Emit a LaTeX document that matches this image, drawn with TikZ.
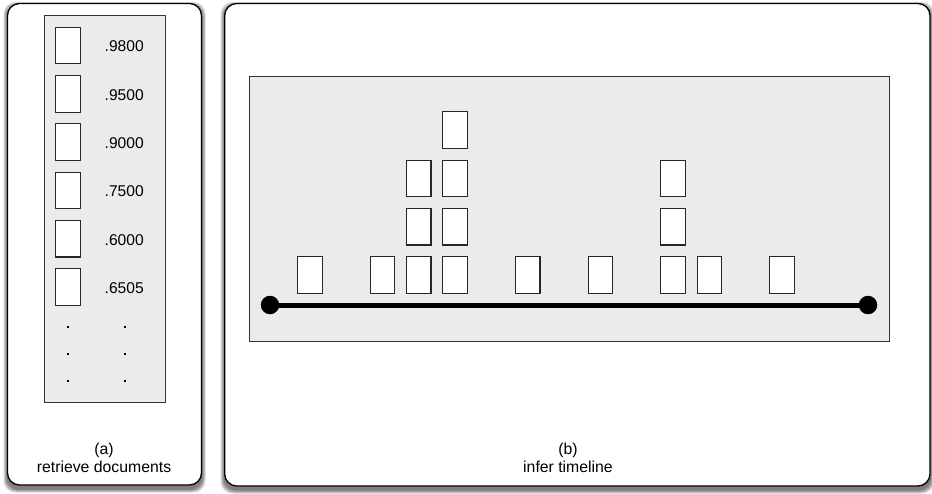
\documentclass[tikz,border=0pt]{standalone}
\usepackage{fontspec}
\setmainfont{Liberation Sans}
\begin{document}
\begin{tikzpicture}[x=1pt,y=-1pt,
  panel/.style={draw=black,line width=1.3pt,fill=white,rounded corners=12pt},
  area/.style={draw=black!80,line width=0.9pt,fill=black!8},
  doc/.style={draw=black!85,line width=1.1pt,fill=white,minimum width=24.5pt,minimum height=36.5pt,inner sep=0pt,outer sep=0pt},
  score/.style={font=\fontsize{15.6}{17.5}\selectfont,inner sep=0pt},
  caption/.style={font=\fontsize{15.8}{17.5}\selectfont,align=center,inner sep=0pt},
  vdot/.style={fill=black,minimum size=2pt,inner sep=0pt},
  endpt/.style={circle,fill=black,minimum size=18.5pt,inner sep=0pt},
  shadowlayer/.style={fill=black,opacity=0.16,rounded corners=12pt}
]
\useasboundingbox (0,0) rectangle (932,493);
% shadows
\foreach \e in {4,3,2,1}{
  \fill[shadowlayer] (7.5-\e,6-\e) rectangle (201.5+\e,488.5+\e);
  \fill[shadowlayer] (224.7-\e,6-\e) rectangle (930+\e,489.5+\e);
}
% panels
\draw[panel] (7.5,3.5) rectangle (201.5,485);
\draw[panel] (224.7,3.5) rectangle (930,486);
% gray areas
\draw[area] (44,15) rectangle (165,402);
\draw[area] (249.3,76) rectangle (889.7,341.7);
% left documents
\foreach \i/\s in {0/.9800,1/.9500,2/.9000,3/.7500,4/.6000,5/.6505}{
  \node[doc] (d\i) at (68,45.5+48.3*\i) {};
  \node[score,anchor=west] (s\i) at (104.5,46.5+48.3*\i) {\s};
}
\foreach \j in {0,1,2}{
  \node[vdot] (pa\j) at (68,326.7+27*\j) {};
  \node[vdot] (pb\j) at (125,326.7+27*\j) {};
}
\node[caption] (capa) at (104,458) {(a)\\retrieve documents};
% right documents
\foreach \k/\n in {0/1,2/1,3/3,4/4,6/1,8/1,10/3,11/1,13/1}{
  \foreach \r in {1,...,\n}{
    \node[doc] (t\k-\r) at (309.8+36.33*\k,275-48.3*\r+48.3) {};
  }
}
% timeline
\node[endpt] (tl) at (270,305) {};
\node[endpt] (tr) at (868,305) {};
\draw[line width=5pt] (tl.center) -- (tr.center);
\node[caption] (capb) at (568,458) {(b)\\infer timeline};
\end{tikzpicture}
\end{document}
